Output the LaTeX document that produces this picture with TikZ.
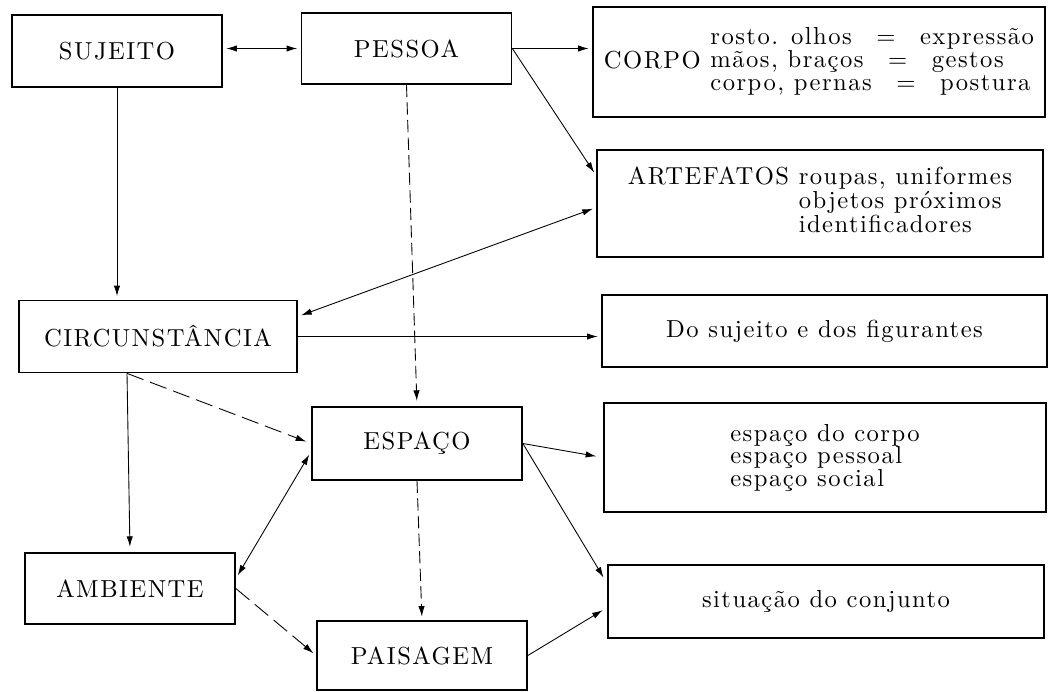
\documentclass[tikz,border=0pt]{standalone}
\usepackage{fontspec}
\setmainfont{lmroman10-regular.otf}[LetterSpace=6]
\usepackage{tikz}
\usetikzlibrary{arrows.meta, positioning, calc}
\tikzstyle{box} = [rectangle, draw=black, line width=1pt, minimum width=4.2cm, minimum height=1.44cm, inner sep=2pt, text centered, font=\fontsize{14}{12.8}\selectfont]
\tikzstyle{widebox} = [box, minimum width=8.9cm, align=left]
\tikzstyle{myarrow} = [->, >={Latex[length=6pt,width=3.6pt]}, line width=0.5pt]
\tikzstyle{mydash} = [myarrow, dash pattern=on 7pt off 3pt]
\tikzstyle{longdash} = [myarrow, dash pattern=on 10pt off 4pt]

\begin{document}
\begin{tikzpicture}[x=0.02cm, y=-0.02cm]
\useasboundingbox (0,0) rectangle (1049,692);
% left column
\node (sujeito)[box] at (117,51) {SUJEITO};
\node (circ)[box, minimum width=5.56cm] at (158,336.5) {CIRCUNSTÂNCIA};
\node (ambiente)[box, minimum height=1.42cm] at (130,588.5) {AMBIENTE};
% middle column
\node (pessoa)[box, minimum height=1.42cm] at (406.5,48.5) {PESSOA};
\node (espaco)[box, minimum height=1.46cm] at (417,443.5) {ESPAÇO};
\node (paisagem)[box, minimum height=1.38cm] at (422,655.5) {PAISAGEM};
% right column
\node (corpo)[widebox, minimum width=9.04cm, minimum height=2.2cm] at (819,62)
  {CORPO \begin{tabular}{@{}l@{}}rosto. olhos\quad=\quad expressão\\ mãos, braços\quad=\quad gestos\\ corpo, pernas\quad=\quad postura\end{tabular}};
\node (artefatos)[widebox, minimum width=8.92cm, minimum height=2.14cm] at (820,203.5)
  {ARTEFATOS \begin{tabular}[t]{@{}l@{}}roupas, uniformes\\ objetos próximos\\ identificadores\end{tabular}};
\node (figurantes)[widebox] at (824.5,331) {Do sujeito e dos figurantes};
\node (espacolist)[widebox, minimum width=8.84cm, minimum height=2.18cm] at (825,457.5)
  {espaço do corpo\\ espaço pessoal\\ espaço social};
\node (situacao)[widebox, minimum width=8.72cm, minimum height=1.46cm] at (826,601.5) {situação do conjunto};

\draw [myarrow, <->, shorten <=2pt, shorten >=2pt] (pessoa.west -| sujeito.east) -- (pessoa.west);
\draw [myarrow, shorten >=2pt] (pessoa.east) -- (pessoa.east -| corpo.west);
\draw [myarrow, shorten >=2pt] (pessoa.east) -- ([yshift=0.56cm]artefatos.west);
\draw [myarrow, <->, shorten <=2pt, shorten >=2pt] ([yshift=-0.08cm]artefatos.west) -- ([yshift=0.4cm]circ.east);
\draw [myarrow, shorten >=2pt] (sujeito.south) -- (sujeito.south |- circ.north);
\draw [myarrow, shorten >=2pt] (circ.east) -- (circ.east -| figurantes.west);
\draw [mydash, shorten >=3pt] (pessoa.south) -- (espaco.north);
\draw [longdash, shorten >=3pt] ([xshift=-0.62cm]circ.south) -- (espaco.west);
\draw [myarrow, shorten >=3pt] ([xshift=-0.62cm]circ.south) -- (ambiente.north);
\draw [myarrow, <->, shorten <=2pt, shorten >=2pt] ([yshift=-0.16cm]espaco.west) -- ([yshift=0.2cm]ambiente.east);
\draw [longdash, shorten >=2pt] (ambiente.east) -- (paisagem.west);
\draw [mydash, shorten >=2pt] (espaco.south) -- (paisagem.north);
\draw [myarrow, shorten >=4pt] (espaco.east) -- (espacolist.west);
\draw [myarrow, shorten >=4pt] (espaco.east) -- ([yshift=0.36cm]situacao.west);
\draw [myarrow, shorten >=3pt] (paisagem.east) -- ([yshift=-0.12cm]situacao.west);
\end{tikzpicture}
\end{document}
